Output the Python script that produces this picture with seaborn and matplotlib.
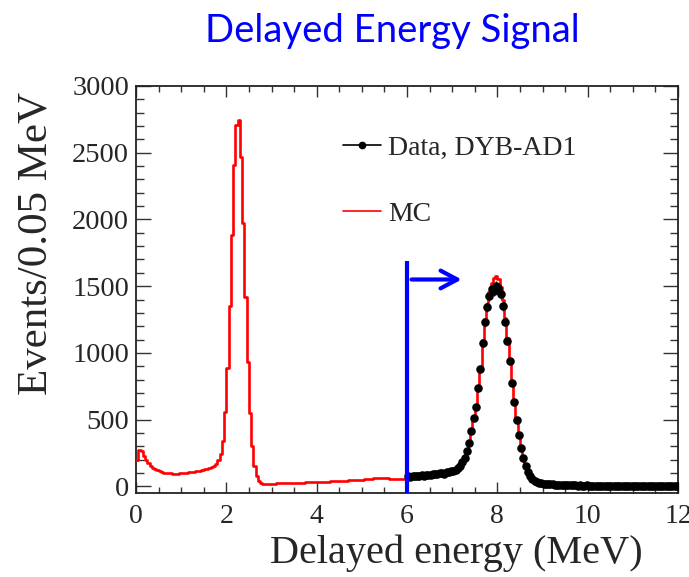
import numpy as np
import pandas as pd
import matplotlib
matplotlib.use("Agg")
import matplotlib.pyplot as plt
from matplotlib.lines import Line2D
from matplotlib.ticker import MultipleLocator
import seaborn as sns

# ---- spectrum content: events per 0.05 MeV bin ----
bin_width = 0.05
e_min, e_max = 0.0, 12.0

# simulated delayed-energy spectrum, 0-12 MeV (240 bins)
mc_counts = [
    200, 270, 262, 225, 198, 175, 155, 140, 128, 119,
    112, 107, 103, 100, 98, 97, 96, 96, 96, 97,
    98, 100, 102, 104, 106, 109, 112, 115, 118, 121,
    128, 133, 138, 144, 152, 165, 195, 245, 340, 560,
    890, 1350, 1880, 2410, 2710, 2745, 2470, 1975, 1420, 930,
    552, 300, 150, 77, 40, 25, 20, 19, 19, 20,
    21, 21, 22, 22, 23, 23, 24, 24, 25, 25,
    26, 27, 27, 28, 28, 29, 30, 30, 31, 32,
    32, 33, 34, 34, 35, 36, 37, 37, 38, 39,
    40, 41, 42, 43, 44, 45, 46, 47, 48, 49,
    50, 52, 54, 56, 58, 60, 61, 62, 62, 61,
    60, 59, 58, 57, 57, 57, 57, 57, 58, 58,
    60, 61, 63, 64, 66, 67, 69, 71, 73, 75,
    77, 79, 81, 84, 86, 89, 92, 95, 99, 104,
    110, 118, 128, 148, 175, 215, 265, 320, 420, 520,
    610, 720, 895, 1095, 1255, 1370, 1460, 1520, 1560, 1575,
    1555, 1495, 1395, 1260, 1110, 950, 790, 640, 500, 380,
    290, 215, 155, 105, 72, 52, 40, 32, 27, 24,
    21, 19, 17, 15, 13, 12, 10, 9, 9, 8,
    8, 7, 7, 7, 6, 6, 6, 6, 6, 6,
    6, 6, 6, 5, 6, 5, 5, 6, 5, 5,
    5, 5, 5, 5, 5, 5, 5, 5, 5, 5,
    5, 5, 5, 5, 5, 5, 5, 5, 5, 5,
    5, 5, 5, 5, 5, 5, 5, 5, 5, 5,
]

# measured spectrum above the 6 MeV cut (120 bins, 6-12 MeV)
data_start = 6.0
data_counts = [
    74, 71, 76, 75, 79, 77, 82, 80, 84, 87,
    85, 90, 93, 91, 97, 99, 96, 104, 107, 112,
    118, 124, 134, 152, 180, 212, 262, 328, 412, 515,
    598, 735, 880, 1075, 1228, 1345, 1425, 1478, 1462, 1502,
    1485, 1440, 1350, 1235, 1090, 938, 776, 632, 498, 386,
    288, 214, 152, 108, 76, 54, 42, 34, 27, 24,
    21, 19, 18, 15, 14, 12, 11, 10, 9, 9,
    8, 8, 7, 8, 7, 6, 7, 6, 6, 7,
    6, 5, 6, 6, 5, 6, 5, 5, 6, 5,
    5, 6, 5, 5, 4, 5, 5, 6, 5, 5,
    4, 5, 5, 5, 4, 5, 4, 5, 5, 4,
    5, 4, 4, 5, 4, 4, 5, 4, 4, 4,
]

# selection cut marker
cut_energy = 6.0
cut_line_top = 1686
arrow_level = 1550
arrow_end = 7.21

title_text = "Delayed Energy Signal"
x_label = "Delayed energy (MeV)"
y_label = "Events/0.05 MeV"
legend_labels = ["Data, DYB-AD1", "MC"]

# ---- derived bin geometry ----
edges = np.linspace(e_min, e_max, len(mc_counts) + 1)
mc_centers = 0.5 * (edges[:-1] + edges[1:])
data_centers = data_start + bin_width * (np.arange(len(data_counts)) + 0.5)

mc_df = pd.DataFrame({"energy": mc_centers, "events": mc_counts})
data_df = pd.DataFrame({"energy": data_centers, "events": data_counts})

# ---- style ----
sns.set_style("ticks")
plt.rcParams["font.family"] = ["Liberation Serif", "DejaVu Serif"]

fig = plt.figure(figsize=(6.89, 5.77), dpi=100)
ax = fig.add_axes([136 / 689, 84 / 577, 542 / 689, 407 / 577])

# data error bars (bin width horizontally, Poisson vertically)
ax.errorbar(data_df["energy"], data_df["events"],
            xerr=bin_width / 2, yerr=np.sqrt(data_df["events"]),
            fmt="none", ecolor="black", elinewidth=1.0, zorder=2)

# MC histogram outline
sns.histplot(data=mc_df, x="energy", weights="events", bins=edges.tolist(),
             element="step", fill=False, color="red", linewidth=1.9,
             ax=ax, zorder=3)

# data points
sns.scatterplot(data=data_df, x="energy", y="events", color="black",
                s=38, linewidth=0, ax=ax, zorder=4)

ax.set_xlim(e_min, e_max)
ax.set_ylim(-50, 3000)

# cut line with arrow
ax.vlines(cut_energy, -50, cut_line_top, color="blue", lw=3, zorder=5)
ax.annotate("", xy=(arrow_end, arrow_level), xytext=(cut_energy + 0.1, arrow_level),
            arrowprops=dict(arrowstyle="->,head_length=0.6,head_width=0.32",
                            color="blue", lw=3, mutation_scale=20,
                            shrinkA=0, shrinkB=0), zorder=5)

# ticks on all four sides, pointing inward
ax.xaxis.set_major_locator(MultipleLocator(2))
ax.xaxis.set_minor_locator(MultipleLocator(0.5))
ax.yaxis.set_major_locator(MultipleLocator(500))
ax.yaxis.set_minor_locator(MultipleLocator(100))
ax.tick_params(which="both", direction="in", top=True, right=True,
               color="#333333", width=1)
ax.tick_params(axis="y", which="major", length=11, pad=5, labelsize=20.5)
ax.tick_params(axis="y", which="minor", length=6)
ax.tick_params(axis="x", which="major", length=8, pad=8, labelsize=20)
ax.tick_params(axis="x", which="minor", length=4.5)
for sp in ax.spines.values():
    sp.set_linewidth(1.3)
    sp.set_color("#222222")

ax.set_xlabel(x_label, fontsize=29, ha="right", va="center")
ax.xaxis.set_label_coords(0.934, -0.147)
ax.set_ylabel(y_label, fontsize=31, ha="center", va="center")
ax.yaxis.set_label_coords(-0.1845, 0.614)

handles = [
    Line2D([], [], color="black", lw=1.2, marker="o", markersize=4.5),
    Line2D([], [], color="red", lw=1.2),
]
ax.legend(handles, legend_labels, loc="upper left",
          bbox_to_anchor=(0.382, 0.878), frameon=False, fontsize=20,
          borderpad=0, borderaxespad=0, handlelength=1.35,
          handletextpad=0.28, labelspacing=1.45)

fig.text(392 / 689, 1 - 31 / 577, title_text, color="blue", fontsize=27.5,
         family=["Lato", "DejaVu Sans"], ha="center", va="center")

fig.savefig("out.png", dpi=100)
